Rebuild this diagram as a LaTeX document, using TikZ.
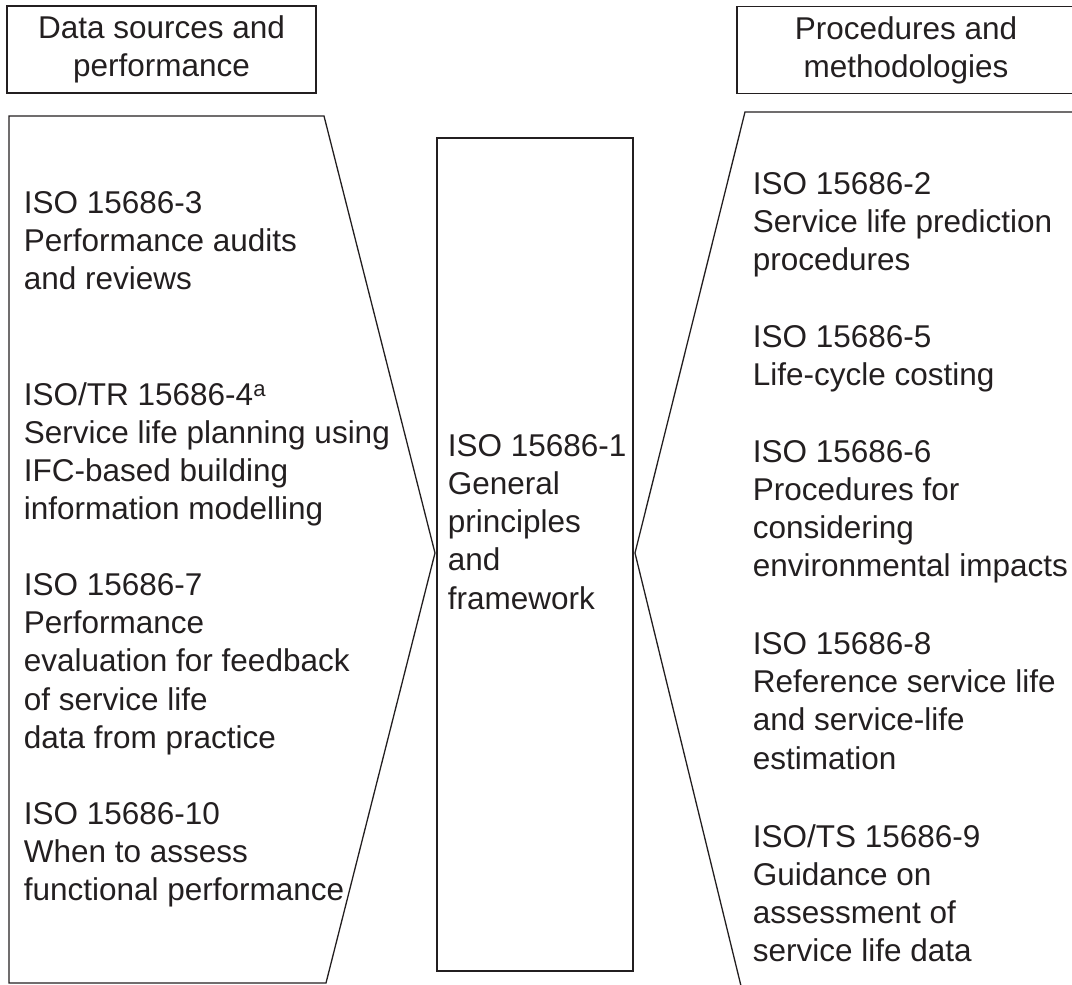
\documentclass[tikz,border=0pt]{standalone}
\usepackage{fontspec}
\setmainfont{Liberation Sans}
\usetikzlibrary{positioning}
\definecolor{ink}{HTML}{231F20}

\begin{document}
\begin{tikzpicture}[x=1pt, y=-1pt, line width=1.8pt, draw=ink, text=ink,
	every node/.style={font=\fontsize{31.5}{38.2}\selectfont, inner sep=0pt},
	head/.style={draw, align=center, minimum height=87pt},
	block/.style={anchor=north west, align=left},
	chevron/.style={line width=1.3pt, line join=miter}]
	\useasboundingbox (0,0) rectangle (1072,985);

	% headers
	\node (srchead) [head, minimum width=309pt] at (161.5,49.5) {Data sources and\\performance};
	\node (prochead) [head, minimum width=338pt] at (906,50) {Procedures and\\methodologies};

	% outline of the three columns
	\coordinate (lpeak) at (435,553);
	\coordinate (rpeak) at (635,553);
	\draw[chevron] (9,116) -- (324,116) -- (lpeak) -- (326,983) -- (9,983) -- cycle;
	\draw[chevron] (1080,112) -- (745,112) -- (rpeak) -- (742,990);
	\draw (437,138) rectangle (633,971);

	% left column
	\node (iso3) [block] at (23,190.5) {ISO 15686-3\\Performance audits\\and reviews};
	\node (iso4) [block] at (23,381.5) {ISO/TR 15686-4\textsuperscript{a}\\Service life planning using\\IFC-based building\\information modelling};
	\node (iso7) [block] at (23,572.5) {ISO 15686-7\\Performance\\evaluation for feedback\\of service life\\data from practice};
	\node (iso10) [block] at (23,801.5) {ISO 15686-10\\When to assess\\functional performance};

	% centre
	\node (iso1) [block] at (447,433.5) {ISO 15686-1\\General\\principles\\and\\framework};

	% right column
	\node (iso2) [block] at (752,171.5) {ISO 15686-2\\Service life prediction\\procedures};
	\node (iso5) [block] at (752,324.3) {ISO 15686-5\\Life-cycle costing};
	\node (iso6) [block] at (752,439.5) {ISO 15686-6\\Procedures for\\considering\\environmental impacts};
	\node (iso8) [block] at (752,631.5) {ISO 15686-8\\Reference service life\\and service-life\\estimation};
	\node (iso9) [block] at (752,823.5) {ISO/TS 15686-9\\Guidance on\\assessment of\\service life data};
\end{tikzpicture}
\end{document}
